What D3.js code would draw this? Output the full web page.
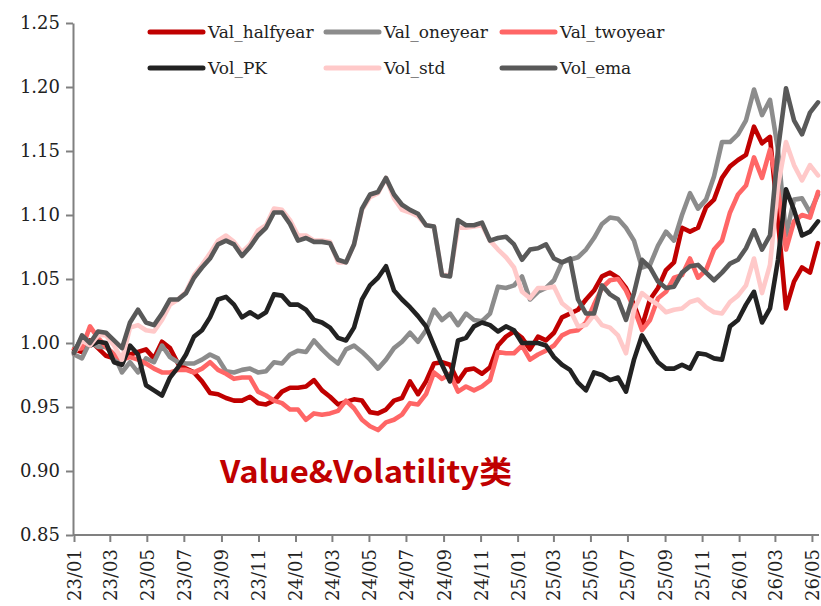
<!DOCTYPE html>
<html>
<head>
<meta charset="utf-8">
<script src="https://cdn.jsdelivr.net/npm/d3@7"></script>
<style>
  html, body { margin: 0; padding: 0; background: #fff; }
  svg { display: block; }
  .axis path, .axis line { stroke: #808080; stroke-width: 2; }
</style>
</head>
<body>
<svg id="chart" width="821" height="606"></svg>
<script>
// Value & Volatility factor NAVs (one point every ~13.3 days, 23/01 -> 26/05)

const seriesNames = ['Val_halfyear', 'Val_oneyear', 'Val_twoyear', 'Vol_PK', 'Vol_std', 'Vol_ema'];
const seriesColors = ['#C00000', '#8C8C8C', '#FF6666', '#222222', '#FFC9C9', '#595959'];

const valHalfyear = [
  0.995, 0.993, 1.002, 0.996, 0.990, 0.988, 0.989, 0.991, 0.993, 0.995,
  0.988, 1.001, 0.996, 0.984, 0.980, 0.977, 0.970, 0.961, 0.960, 0.957,
  0.955, 0.955, 0.958, 0.953, 0.952, 0.955, 0.962, 0.965, 0.965, 0.966,
  0.971, 0.963, 0.958, 0.952, 0.954, 0.956, 0.955, 0.946, 0.945, 0.948,
  0.955, 0.957, 0.970, 0.960, 0.970, 0.984, 0.985, 0.983, 0.970, 0.979,
  0.980, 0.976, 0.981, 0.998, 1.005, 1.009, 1.004, 0.995, 1.005, 1.002,
  1.008, 1.020, 1.023, 1.026, 1.034, 1.041, 1.052, 1.055, 1.051, 1.043,
  1.030, 1.013, 1.034, 1.043, 1.057, 1.063, 1.090, 1.087, 1.090, 1.106,
  1.112, 1.129, 1.138, 1.143, 1.147, 1.169, 1.156, 1.161, 1.096, 1.027,
  1.048, 1.059, 1.055, 1.078
];

const valOneyear = [
  0.991, 0.988, 1.001, 0.997, 0.997, 0.991, 0.977, 0.985, 0.977, 0.988,
  0.985, 0.998, 0.989, 0.985, 0.984, 0.984, 0.987, 0.991, 0.988, 0.978,
  0.977, 0.979, 0.980, 0.977, 0.978, 0.985, 0.984, 0.991, 0.994, 0.993,
  1.002, 0.995, 0.989, 0.984, 0.995, 0.998, 0.993, 0.987, 0.980, 0.987,
  0.996, 1.001, 1.008, 1.001, 1.010, 1.026, 1.018, 1.023, 1.014, 1.023,
  1.018, 1.017, 1.023, 1.044, 1.043, 1.045, 1.052, 1.034, 1.040, 1.043,
  1.049, 1.063, 1.065, 1.067, 1.073, 1.082, 1.093, 1.098, 1.097, 1.090,
  1.080, 1.059, 1.061, 1.076, 1.087, 1.080, 1.100, 1.117, 1.105, 1.112,
  1.130, 1.157, 1.157, 1.163, 1.174, 1.198, 1.178, 1.190, 1.151, 1.084,
  1.112, 1.113, 1.102, 1.116
];

const valTwoyear = [
  0.995, 0.996, 1.013, 1.004, 0.997, 0.991, 0.987, 0.989, 0.987, 0.984,
  0.980, 0.977, 0.977, 0.979, 0.979, 0.977, 0.980, 0.985, 0.979, 0.976,
  0.972, 0.973, 0.973, 0.962, 0.959, 0.955, 0.953, 0.948, 0.948, 0.940,
  0.945, 0.944, 0.945, 0.947, 0.955, 0.949, 0.940, 0.935, 0.932, 0.938,
  0.940, 0.944, 0.953, 0.952, 0.960, 0.977, 0.972, 0.976, 0.962, 0.966,
  0.963, 0.966, 0.971, 0.993, 0.992, 0.992, 0.998, 0.987, 0.991, 0.994,
  0.998, 1.006, 1.009, 1.010, 1.016, 1.030, 1.043, 1.049, 1.050, 1.041,
  1.027, 1.010, 1.018, 1.035, 1.040, 1.051, 1.053, 1.066, 1.051, 1.057,
  1.073, 1.080, 1.102, 1.116, 1.123, 1.145, 1.129, 1.151, 1.120, 1.073,
  1.095, 1.100, 1.098, 1.118
];

const volPK = [
  0.993, 1.004, 0.998, 1.001, 1.000, 0.985, 0.983, 0.998, 0.991, 0.967,
  0.963, 0.959, 0.973, 0.981, 0.991, 1.005, 1.010, 1.020, 1.034, 1.036,
  1.030, 1.020, 1.024, 1.020, 1.024, 1.038, 1.037, 1.030, 1.030, 1.026,
  1.018, 1.016, 1.012, 1.004, 1.002, 1.012, 1.034, 1.045, 1.051, 1.060,
  1.041, 1.034, 1.028, 1.021, 1.013, 0.998, 0.983, 0.970, 1.002, 1.004,
  1.013, 1.016, 1.014, 1.009, 1.013, 1.010, 1.000, 1.000, 1.000, 0.998,
  0.989, 0.983, 0.979, 0.969, 0.963, 0.977, 0.975, 0.971, 0.973, 0.962,
  0.987, 1.006, 0.995, 0.985, 0.980, 0.980, 0.983, 0.980, 0.992, 0.991,
  0.988, 0.987, 1.013, 1.018, 1.030, 1.040, 1.016, 1.027, 1.065, 1.120,
  1.104, 1.084, 1.087, 1.095
];

const volStd = [
  0.992, 1.002, 0.998, 1.006, 1.006, 0.998, 0.987, 1.012, 1.014, 1.010,
  1.009, 1.018, 1.030, 1.034, 1.040, 1.053, 1.061, 1.070, 1.080, 1.084,
  1.079, 1.071, 1.077, 1.088, 1.092, 1.105, 1.104, 1.096, 1.084, 1.084,
  1.080, 1.080, 1.079, 1.063, 1.063, 1.077, 1.104, 1.114, 1.117, 1.129,
  1.113, 1.104, 1.102, 1.099, 1.092, 1.091, 1.053, 1.053, 1.090, 1.090,
  1.091, 1.092, 1.080, 1.073, 1.067, 1.059, 1.040, 1.035, 1.043, 1.043,
  1.044, 1.031, 1.026, 1.013, 1.014, 1.022, 1.014, 1.012, 1.006, 0.992,
  1.026, 1.039, 1.034, 1.030, 1.024, 1.026, 1.027, 1.032, 1.034, 1.028,
  1.024, 1.023, 1.032, 1.037, 1.045, 1.066, 1.039, 1.061, 1.123, 1.157,
  1.139, 1.127, 1.139, 1.131
];

const volEma = [
  0.992, 1.006, 1.000, 1.009, 1.008, 1.002, 0.996, 1.016, 1.026, 1.016,
  1.014, 1.023, 1.034, 1.034, 1.039, 1.051, 1.059, 1.066, 1.077, 1.080,
  1.077, 1.068, 1.075, 1.084, 1.090, 1.102, 1.102, 1.093, 1.080, 1.082,
  1.079, 1.079, 1.078, 1.065, 1.063, 1.077, 1.105, 1.116, 1.118, 1.129,
  1.116, 1.108, 1.104, 1.101, 1.092, 1.091, 1.053, 1.052, 1.096, 1.092,
  1.092, 1.094, 1.080, 1.082, 1.083, 1.077, 1.065, 1.073, 1.074, 1.077,
  1.066, 1.063, 1.066, 1.034, 1.023, 1.023, 1.045, 1.038, 1.034, 1.018,
  1.039, 1.065, 1.059, 1.048, 1.043, 1.044, 1.055, 1.060, 1.061, 1.055,
  1.049, 1.055, 1.062, 1.065, 1.074, 1.088, 1.073, 1.084, 1.151, 1.199,
  1.174, 1.163, 1.180, 1.188
];

const seriesValues = [valHalfyear, valOneyear, valTwoyear, volPK, volStd, volEma];

const yTicks = [0.85, 0.90, 0.95, 1.00, 1.05, 1.10, 1.15, 1.20, 1.25];
const dateStart = new Date(2023, 0, 1);
const dateEnd = new Date(2026, 4, 11);
const noteText = 'Value&Volatility类';

const SERIF = '"DejaVu Serif", serif';

// -------- dates for each point (evenly spaced between first and last) --------
const nPts = valHalfyear.length;
const dates = d3.range(nPts).map(i => new Date(+dateStart + i * (dateEnd - dateStart) / (nPts - 1)));

// -------- scales & axes --------
const svg = d3.select('#chart');
const x = d3.scaleTime().domain([dateStart, dateEnd]).range([74, 818]);
const y = d3.scaleLinear().domain([0.85, 1.25]).range([535, 23]);

const yAxis = d3.axisLeft(y)
  .tickValues(yTicks)
  .tickFormat(d3.format('.2f'))
  .tickSize(7).tickSizeOuter(0).tickPadding(6);

svg.append('g').attr('class', 'axis y-axis')
  .attr('transform', 'translate(73,0)')
  .call(yAxis);

const xAxis = d3.axisBottom(x)
  .ticks(d3.timeMonth.every(2))
  .tickFormat(d3.timeFormat('%y/%m'))
  .tickSize(7).tickSizeOuter(0);

const gx = svg.append('g').attr('class', 'axis x-axis')
  .attr('transform', 'translate(0,535)')
  .call(xAxis);
gx.select('.domain').attr('d', 'M73,0H819');
gx.selectAll('.tick text')
  .attr('transform', 'rotate(-90)')
  .attr('x', -14).attr('y', 0).attr('dy', '0.36em')
  .style('text-anchor', 'end');

svg.selectAll('.axis').attr('font-family', null).attr('font-size', null);
svg.selectAll('.axis text')
  .style('font-family', SERIF)
  .style('font-size', '18px')
  .style('fill', '#222');

// -------- lines --------
const line = d3.line()
  .x((d, i) => x(dates[i]))
  .y(d => y(d));

svg.append('g').attr('class', 'lines')
  .selectAll('path')
  .data(seriesValues)
  .join('path')
    .attr('d', d => line(d))
    .attr('fill', 'none')
    .attr('stroke', (d, i) => seriesColors[i])
    .attr('stroke-width', 4.6)
    .attr('stroke-linejoin', 'round')
    .attr('stroke-linecap', 'round');

// -------- legend (3 columns x 2 rows) --------
const legCols = [150, 326, 502];
const legRows = [32, 68];
const leg = svg.append('g').attr('class', 'legend')
  .selectAll('g')
  .data(seriesNames)
  .join('g')
    .attr('transform', (d, i) => `translate(${legCols[i % 3]},${legRows[Math.floor(i / 3)]})`);

leg.append('line')
  .attr('x1', 0).attr('x2', 53)
  .attr('stroke', (d, i) => seriesColors[i])
  .attr('stroke-width', 5)
  .attr('stroke-linecap', 'round');

leg.append('text')
  .attr('x', 58).attr('y', 6)
  .style('font-family', SERIF)
  .style('font-size', '17px')
  .style('fill', '#222')
  .text(d => d);

// -------- annotation --------
svg.append('text')
  .attr('x', 220).attr('y', 483)
  .attr('textLength', 292).attr('lengthAdjust', 'spacingAndGlyphs')
  .style('font-family', '"Noto Sans CJK SC", "Open Sans", sans-serif')
  .style('font-weight', 700)
  .style('font-size', '31px')
  .style('fill', '#C00000')
  .text(noteText);
</script>
</body>
</html>
